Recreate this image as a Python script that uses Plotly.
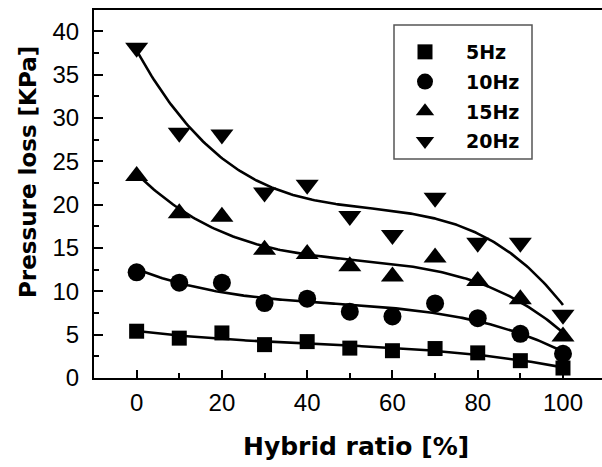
import numpy as np
import plotly.graph_objects as go

hybrid_ratio = [0, 10, 20, 30, 40, 50, 60, 70, 80, 90, 100]
loss_5hz = [5.4, 4.6, 5.2, 3.85, 4.2, 3.45, 3.15, 3.4, 2.9, 2.0, 1.15]
loss_10hz = [12.2, 11.0, 11.0, 8.65, 9.15, 7.65, 7.1, 8.6, 6.9, 5.1, 2.8]
loss_15hz = [23.3, 19.0, 18.6, 14.8, 14.3, 12.9, 11.7, 13.9, 11.2, 9.1, 4.8]
loss_20hz = [38.1, 28.3, 28.1, 21.4, 22.3, 18.7, 16.5, 20.8, 15.6, 15.6, 7.3]
series_names = ["5Hz", "10Hz", "15Hz", "20Hz"]
x_ticks = [0, 20, 40, 60, 80, 100]
y_ticks = [0, 5, 10, 15, 20, 25, 30, 35, 40]

series = [loss_5hz, loss_10hz, loss_15hz, loss_20hz]
symbols = ["square", "circle", "triangle-up", "triangle-down"]
sizes = [15, 18, 20, 20]

fig = go.Figure()
xfit = np.linspace(min(hybrid_ratio), max(hybrid_ratio), 200)
for ys in series:
    coef = np.polyfit(hybrid_ratio, ys, 3)
    fig.add_trace(go.Scatter(x=xfit, y=np.polyval(coef, xfit), mode="lines",
                             line=dict(color="black", width=2.6),
                             showlegend=False, hoverinfo="skip"))
for name, ys, sym, sz in zip(series_names, series, symbols, sizes):
    fig.add_trace(go.Scatter(x=hybrid_ratio, y=ys, mode="markers", name=name,
                             legendgroup=name,
                             marker=dict(symbol=sym, size=sz, color="black",
                                         line=dict(width=0))))

PW, PH = 508, 368
fig.update_layout(
    width=602, height=467,
    margin=dict(l=94, r=0, t=10, b=89),
    plot_bgcolor="white", paper_bgcolor="white",
    showlegend=True,
    legend=dict(x=(384 - 94) / PW, y=(378 - 33) / PH, xanchor="left", yanchor="top",
                borderwidth=0, bgcolor="rgba(0,0,0,0)", tracegroupgap=2,
                font=dict(family="DejaVu Sans", size=19, color="black", weight="bold"),
                itemwidth=72),
    xaxis=dict(range=[-10, 109.15], tickvals=x_ticks, ticks="inside", ticklen=8,
               tickwidth=1.5, tickcolor="black",
               minor=dict(dtick=10, ticks="inside", ticklen=5, tickwidth=1.5, tickcolor="black"),
               showline=True, linecolor="black", linewidth=2, mirror=True,
               showgrid=False, zeroline=False,
               tickfont=dict(family="Liberation Sans", size=24, color="black"),
               ticklabelstandoff=2),
    yaxis=dict(range=[0, 42.47], tickvals=y_ticks, ticks="inside", ticklen=9,
               tickwidth=1.5, tickcolor="black",
               minor=dict(dtick=2.5, ticks="inside", ticklen=5, tickwidth=1.5, tickcolor="black"),
               showline=True, linecolor="black", linewidth=2, mirror=False,
               showgrid=False, zeroline=False,
               tickfont=dict(family="Liberation Sans", size=24, color="black"),
               ticklabelstandoff=8),
    shapes=[dict(type="rect", xref="paper", yref="paper",
                 x0=(394 - 94) / PW, x1=(532 - 94) / PW,
                 y0=(378 - 159) / PH, y1=(378 - 25) / PH,
                 line=dict(color="#555555", width=1.5), fillcolor="rgba(0,0,0,0)",
                 layer="below")],
)
fig.add_annotation(text="Hybrid ratio [%]", xref="paper", yref="paper",
                   x=(356 - 94) / PW, y=-(446 - 378) / PH, xanchor="center", yanchor="middle",
                   showarrow=False,
                   font=dict(family="DejaVu Sans", size=25, color="black", weight="bold"))
fig.add_annotation(text="Pressure loss [KPa]", xref="paper", yref="paper",
                   x=-(94 - 28) / PW, y=(378 - 172) / PH, xanchor="center", yanchor="middle",
                   textangle=-90, showarrow=False,
                   font=dict(family="DejaVu Sans", size=23, color="black", weight="bold"))
fig.write_html("out.html")
